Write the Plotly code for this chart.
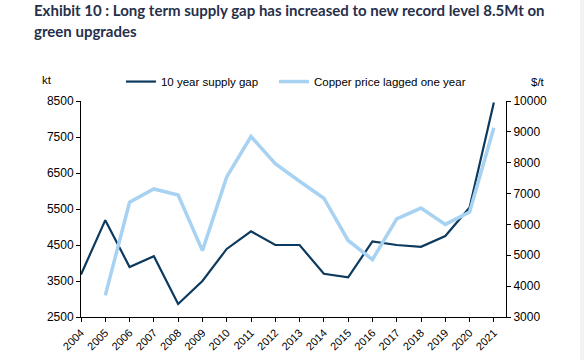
import plotly.graph_objects as go

years = list(range(2004, 2022))
supply_gap = [3680, 5190, 3890, 4190, 2860, 3500, 4390, 4880, 4500, 4500,
              3700, 3600, 4600, 4500, 4450, 4750, 5540, 8460]
copper_years = list(range(2005, 2022))
copper_price = [3700, 6720, 7150, 6950, 5150, 7540, 8850, 7970, 7400, 6850,
                5480, 4860, 6180, 6530, 6000, 6400, 9130]
title_lines = ["Exhibit 10 : Long term supply gap has increased to new record level 8.5Mt on",
               "green upgrades"]

DARK = "#0c3a5e"
LIGHT = "#a8d2f2"

fig = go.Figure()
fig.add_trace(go.Scatter(x=years, y=supply_gap, mode="lines", name="10 year supply gap",
                         line=dict(color=DARK, width=2.2), legend="legend"))
fig.add_trace(go.Scatter(x=copper_years, y=copper_price, mode="lines",
                         name="Copper price lagged one year", yaxis="y2",
                         line=dict(color=LIGHT, width=3.5), legend="legend2"))

FAM = "Arial, Liberation Sans, sans-serif"
yfont = dict(family=FAM, size=12, color="#000000")
xfont = dict(family=FAM, size=11, color="#000000")
lfont = dict(family=FAM, size=11.5, color="#000000")
tfont = dict(family="Lato, Roboto, sans-serif", size=15, color="#27304a")

leg_common = dict(orientation="h", y=1.09, xanchor="left", yanchor="middle",
                  font=lfont, bgcolor="rgba(0,0,0,0)", itemwidth=30)

title_ann = [dict(text="<b>%s</b>" % t, xref="paper", yref="paper", x=-0.115, y=1.0,
                  xanchor="left", yanchor="middle", yshift=s, align="left",
                  showarrow=False, font=tfont)
             for t, s in zip(title_lines, [91, 70])]

fig.update_layout(
    width=584, height=360,
    margin=dict(l=81, r=78, t=101, b=43, autoexpand=False),
    paper_bgcolor="white", plot_bgcolor="white",
    showlegend=True,
    legend=dict(x=0.094, **leg_common),
    legend2=dict(x=0.454, **leg_common),
    xaxis=dict(range=[2004, 2021.5], tickmode="array", tickvals=years,
               ticktext=[str(y) for y in years], tickangle=-45,
               showline=True, linecolor="black", linewidth=1,
               ticks="outside", ticklen=4, tickcolor="black",
               showgrid=False, zeroline=False, tickfont=xfont),
    yaxis=dict(range=[2500, 8500], tick0=2500, dtick=1000, tickformat="d",
               showline=True, linecolor="black", linewidth=1,
               ticks="outside", ticklen=4, tickcolor="black",
               showgrid=False, zeroline=False, tickfont=yfont),
    yaxis2=dict(range=[3000, 10000], tick0=3000, dtick=1000, tickformat="d",
                overlaying="y", side="right",
                showline=True, linecolor="black", linewidth=1,
                ticks="outside", ticklen=4, tickcolor="black",
                showgrid=False, zeroline=False, tickfont=yfont),
    shapes=[dict(type="rect", xref="paper", yref="paper", x0=1.174, x1=1.2, y0=-0.3, y1=1.6,
                 fillcolor="#f2f2f2", line=dict(width=0), layer="below")],
    annotations=title_ann + [
        dict(text="kt", xref="paper", yref="paper", x=-0.08, y=1.0, yshift=21,
             xanchor="center", yanchor="middle", showarrow=False, font=lfont),
        dict(text="$/t", xref="paper", yref="paper", x=1.075, y=1.0, yshift=19,
             xanchor="center", yanchor="middle", showarrow=False, font=lfont),
    ],
)

fig.write_html("out.html", config={"displayModeBar": False},
               post_script="document.body.style.margin='0';document.body.style.padding='0';")
